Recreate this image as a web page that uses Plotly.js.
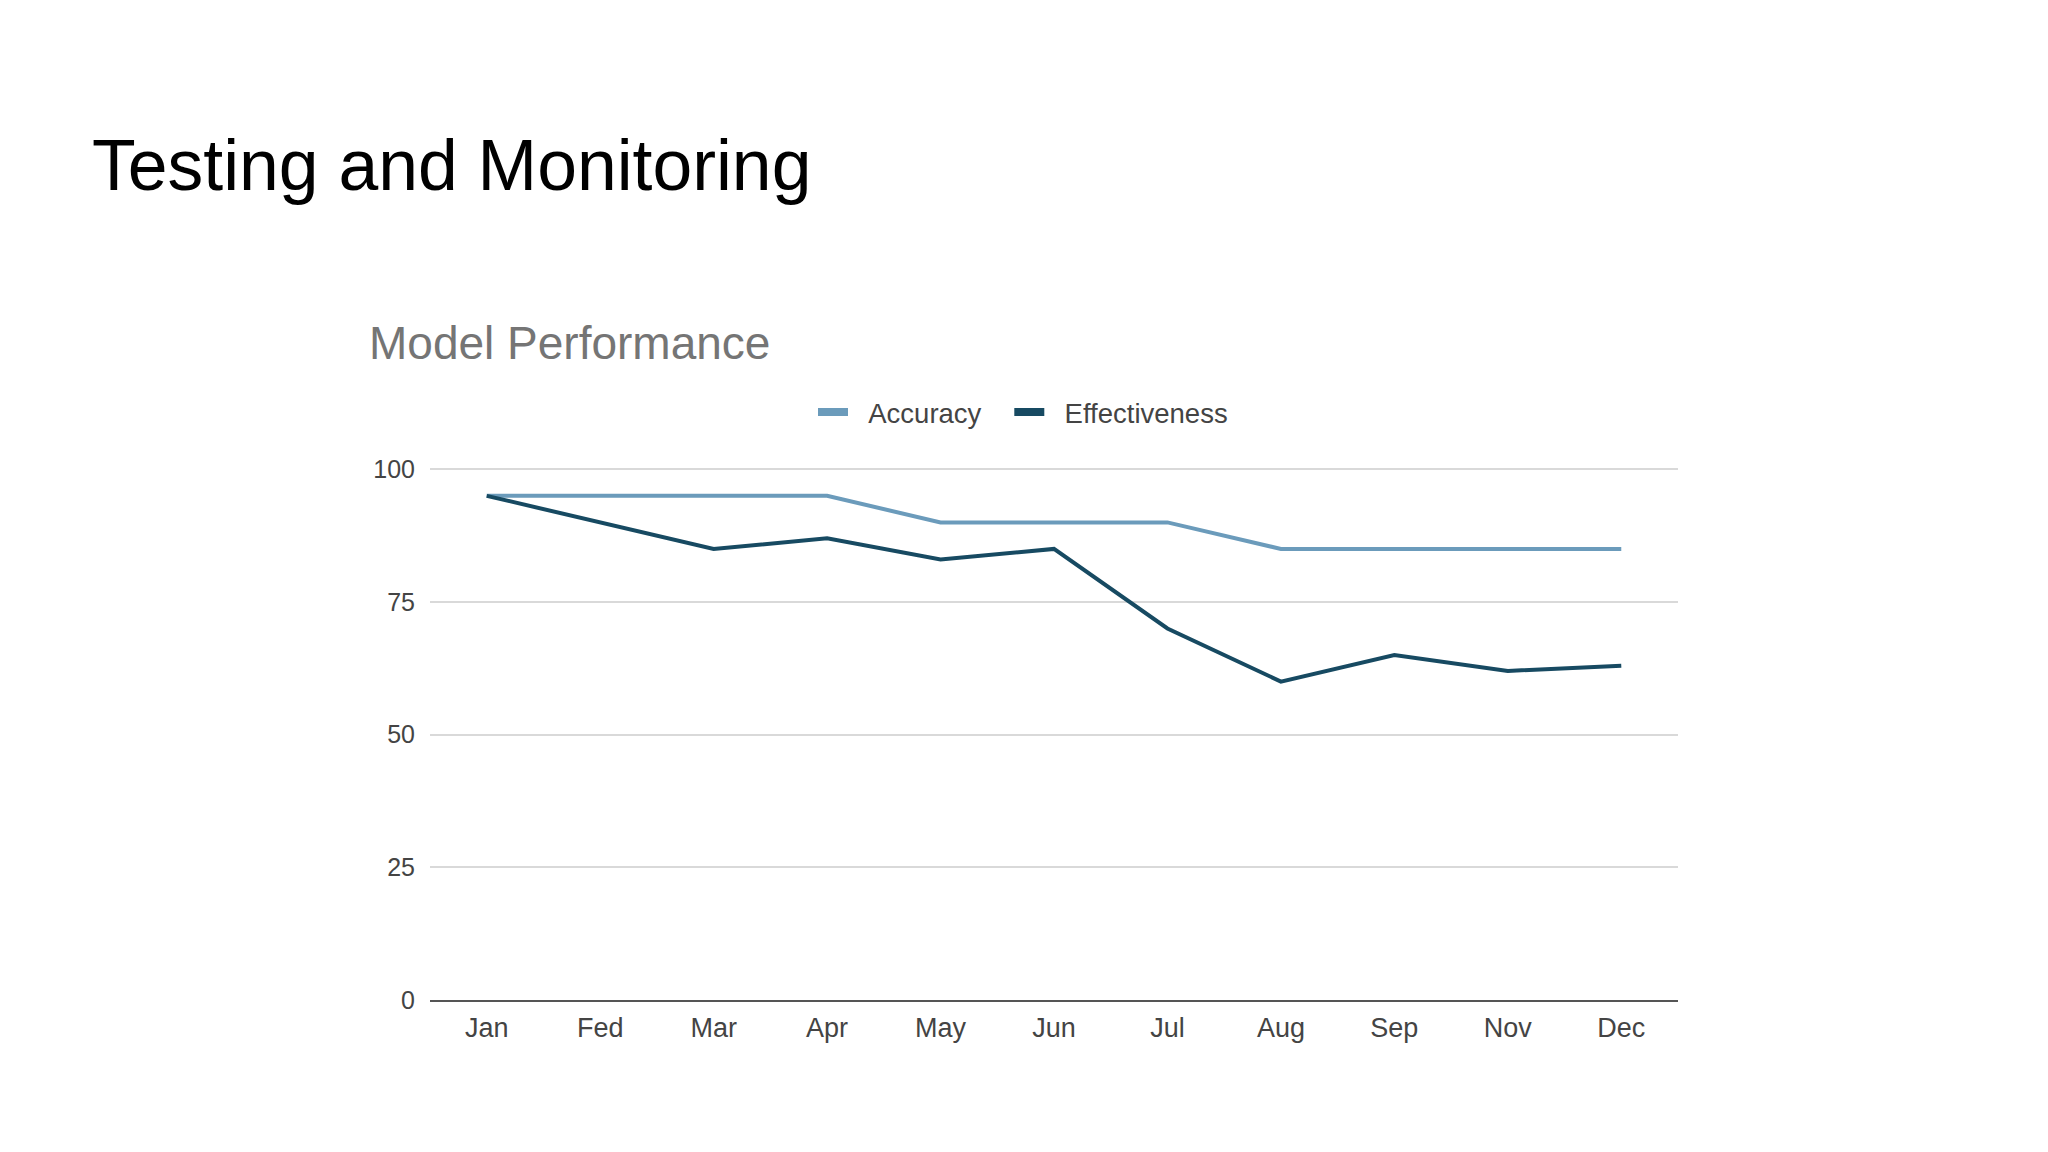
<!DOCTYPE html>
<html>
<head>
<meta charset="utf-8">
<script src="https://cdn.plot.ly/plotly-3.0.1.min.js"></script>
<style>
  html, body { margin: 0; padding: 0; background: #ffffff; }
  #chart { width: 2048px; height: 1152px; }
</style>
</head>
<body>
<div id="chart"></div>
<script>
// data
const months = ["Jan", "Fed", "Mar", "Apr", "May", "Jun", "Jul", "Aug", "Sep", "Nov", "Dec"];
const accuracy = [95, 95, 95, 95, 90, 90, 90, 85, 85, 85, 85];
const effectiveness = [95, 90, 85, 87, 83, 85, 70, 60, 65, 62, 63];
const seriesNames = ["Accuracy", "Effectiveness"];
const seriesColors = ["#6b9bbb", "#174a62"];
const yTicks = [0, 25, 50, 75, 100];

const textFont = "Arial, 'Liberation Sans', sans-serif";
const nbsp = "\u00a0";

// the lines themselves
const traces = [accuracy, effectiveness].map((vals, i) => ({
  x: months,
  y: vals,
  type: "scatter",
  mode: "lines",
  name: seriesNames[i],
  line: { color: seriesColors[i], width: 4 },
  showlegend: false,
  hoverinfo: "x+y+name"
}));

// legend entries only (thicker swatch like the original);
// padded with nbsp to get the wider gaps of the original legend
seriesNames.forEach((name, i) => {
  traces.push({
    x: [null],
    y: [null],
    type: "scatter",
    mode: "lines",
    name: nbsp.repeat(2) + name + (i < seriesNames.length - 1 ? nbsp.repeat(3) : ""),
    line: { color: seriesColors[i], width: 8 },
    showlegend: true,
    hoverinfo: "skip"
  });
});

// plot box: y=100 sits at 469px, y=0 at 1000px; range goes a bit above 100
// so the top gridline still gets drawn
const plotTop = 464, plotBottom = 1000;

const layout = {
  width: 2048,
  height: 1152,
  paper_bgcolor: "#ffffff",
  plot_bgcolor: "#ffffff",
  margin: { l: 430, r: 370, t: plotTop, b: 1152 - plotBottom },
  font: { family: textFont, color: "#444444" },
  title: {
    text: "Testing and Monitoring",
    font: { family: textFont, size: 71.5, color: "#000000" },
    xref: "container",
    yref: "container",
    x: 92 / 2048,
    xanchor: "left",
    y: 1 - 165 / 1152,
    yanchor: "middle"
  },
  annotations: [{
    text: "Model Performance",
    xref: "paper",
    yref: "paper",
    x: (367 - 430) / 1248,
    xanchor: "left",
    y: 1 + (plotTop - 343) / (plotBottom - plotTop),
    yanchor: "middle",
    showarrow: false,
    font: { family: textFont, size: 46, color: "#757575" }
  }],
  legend: {
    orientation: "h",
    x: (813 - 430) / 1248,
    xanchor: "left",
    y: 1 + (plotTop - 412) / (plotBottom - plotTop),
    yanchor: "middle",
    font: { family: textFont, size: 27.5, color: "#444444" },
    bgcolor: "rgba(0,0,0,0)",
    itemwidth: 30
  },
  xaxis: {
    type: "category",
    range: [-0.5, months.length - 0.5],
    showgrid: false,
    zeroline: false,
    showline: true,
    linecolor: "#555555",
    linewidth: 2,
    ticks: "",
    ticklabelstandoff: 3,
    tickfont: { family: textFont, size: 27, color: "#444444" },
    fixedrange: true
  },
  yaxis: {
    range: [0, 101],
    tickvals: yTicks,
    ticktext: yTicks.map(String),
    showgrid: true,
    gridcolor: "#d9d9d9",
    gridwidth: 2,
    zeroline: false,
    showline: false,
    ticks: "",
    ticklabelstandoff: 14,
    tickfont: { family: textFont, size: 25, color: "#444444" },
    fixedrange: true
  },
  hovermode: false
};

Plotly.newPlot("chart", traces, layout, { displayModeBar: false, staticPlot: true });
</script>
</body>
</html>
